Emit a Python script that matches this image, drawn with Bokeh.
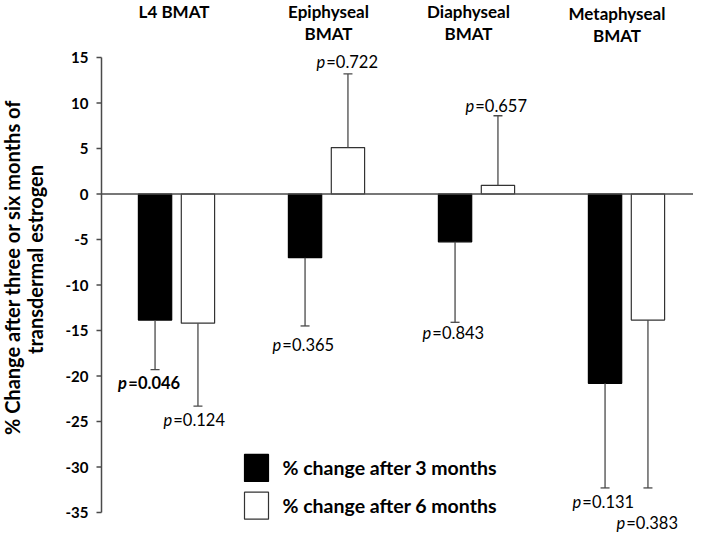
import math
from bokeh.plotting import figure
from bokeh.models import Range1d
from bokeh.core.properties import value
from bokeh.embed import file_html
from bokeh.resources import INLINE

# ---------------- data ----------------
categories = ["L4 BMAT", "Epiphyseal\nBMAT", "Diaphyseal\nBMAT", "Metaphyseal\nBMAT"]
series_names = ["% change after 3 months", "% change after 6 months"]
change_3m = [-13.85, -7.0, -5.25, -20.8]
change_6m = [-14.2, 5.1, 0.95, -13.85]
sd_3m = [5.45, 7.5, 8.85, 11.5]
sd_6m = [9.1, 8.1, 7.65, 18.45]
p_3m = ["0.046", "0.365", "0.843", "0.131"]
p_6m = ["0.124", "0.722", "0.657", "0.383"]
bold_3m = [True, False, False, False]
bold_6m = [False, False, False, False]
y_ticks = [15, 10, 5, 0, -5, -10, -15, -20, -25, -30, -35]
y_title = ["% Change  after three or six months of", "transdermal estrogen"]

# ---------------- layout ----------------
W, H = 693, 532
AX = 101          # pixel x of the y axis
PXX = 150.0       # pixels per category
Y15 = 57          # pixel y of the value 15
PXY = 9.1         # pixels per unit
x0 = -0.5 - AX / PXX
x1 = x0 + W / PXX
y1 = 15 + Y15 / PXY
y0 = y1 - H / PXY


def X(fx):
    return x0 + fx / PXX


def Y(fy):
    return y1 - fy / PXY


FONT = value("Lato")
GRAY = "#4a4a4a"

p = figure(width=W, height=H, x_range=Range1d(x0, x1), y_range=Range1d(y0, y1),
           x_axis_location=None, y_axis_location=None, min_border=0,
           toolbar_location=None, output_backend="svg")
p.outline_line_color = None
p.xgrid.visible = False
p.ygrid.visible = False
p.background_fill_color = "white"

OFF = 0.143
BW = 0.222
idx = list(range(len(categories)))
xb = [i - OFF for i in idx]
xw = [i + OFF for i in idx]

# bars
p.vbar(x=xb, top=change_3m, bottom=0, width=BW, fill_color="black", line_color="black", line_width=1.2)
p.vbar(x=xw, top=change_6m, bottom=0, width=BW, fill_color="white", line_color="#333333", line_width=1.2)

# zero line
p.segment(x0=[-0.5], y0=[0], x1=[x1], y1=[0], line_color=GRAY, line_width=1.5)

# y axis
p.segment(x0=[-0.5], y0=[min(y_ticks)], x1=[-0.5], y1=[max(y_ticks)], line_color=GRAY, line_width=1.5)
p.segment(x0=[X(AX - 5)] * len(y_ticks), y0=y_ticks, x1=[-0.5] * len(y_ticks), y1=y_ticks,
          line_color=GRAY, line_width=1.3)
p.text(x=[X(AX - 13)] * len(y_ticks), y=y_ticks, text=[str(t) for t in y_ticks],
       text_font=FONT, text_font_style="bold", text_font_size="15px",
       text_align="right", text_baseline="middle", text_color="black")

# error bars
CAP = 4.5 / PXX


def err_ends(vals, sds):
    return [v + s if v > 0 else v - s for v, s in zip(vals, sds)]


e3 = err_ends(change_3m, sd_3m)
e6 = err_ends(change_6m, sd_6m)
for xs, vals, ends in ((xb, change_3m, e3), (xw, change_6m, e6)):
    p.segment(x0=xs, y0=vals, x1=xs, y1=ends, line_color=GRAY, line_width=1.3)
    p.segment(x0=[x - CAP for x in xs], y0=ends, x1=[x + CAP for x in xs], y1=ends,
              line_color=GRAY, line_width=1.3)

# p-value labels
lab_dy_3m = [13, 19, 11, 14]
lab_dy_6m = [14, 12, 10, 35]
lab_dx_3m = [-5, -2, -2, -2]
lab_dx_6m = [-4, -1, -2, -1]
for xs, vals, ends, ps, bolds, dys, dxs in (
        (xb, change_3m, e3, p_3m, bold_3m, lab_dy_3m, lab_dx_3m),
        (xw, change_6m, e6, p_6m, bold_6m, lab_dy_6m, lab_dx_6m)):
    for x, v, e, pv, b, dy, dx in zip(xs, vals, ends, ps, bolds, dys, dxs):
        yy = e + dy / PXY if v > 0 else e - dy / PXY
        half = 32 if b else 30.5
        left = x + (dx - half) / PXX
        p.text(x=[left], y=[yy], text=["p"], text_font=FONT,
               text_font_style="bold italic" if b else "italic", text_font_size="16.5px",
               text_align="left", text_baseline="middle", text_color="black")
        p.text(x=[left + (9.8 if not b else 10.3) / PXX], y=[yy], text=["=" + pv], text_font=FONT,
               text_font_style="bold" if b else "normal", text_font_size="16.5px",
               text_align="left", text_baseline="middle", text_color="black")

# category headers
head_fx = [173.5, 328, 468, 616.5]
head_fy = [11, 11, 11, 13]
for cat, fx, fy in zip(categories, head_fx, head_fy):
    for k, line in enumerate(cat.split("\n")):
        p.text(x=[X(fx)], y=[Y(fy + 22 * k)], text=[line], text_font=FONT, text_font_style="bold",
               text_font_size="17px", text_align="center", text_baseline="middle", text_color="black")

# y title
title_fx = [11, 34]
title_val = [-7.8, -7.2]
for t, fx, yv in zip(y_title, title_fx, title_val):
    p.text(x=[X(fx)], y=[yv], text=[t], angle=math.pi / 2, text_font=FONT, text_font_style="bold",
           text_font_size="20px", text_align="center", text_baseline="middle", text_color="black")

# legend
leg_x = X(256)
leg_y = [-30.1, -34.25]
p.rect(x=[leg_x], y=[leg_y[0]], width=24, height=27, width_units="screen", height_units="screen",
       fill_color="black", line_color="black", line_width=1.2)
p.rect(x=[leg_x], y=[leg_y[1]], width=24, height=27, width_units="screen", height_units="screen",
       fill_color="white", line_color="#333333", line_width=1.2)
p.text(x=[X(282)] * 2, y=leg_y, text=series_names, text_font=FONT, text_font_style="bold",
       text_font_size="19.5px", text_align="left", text_baseline="middle", text_color="black")

open("out.html", "w").write(file_html(p, INLINE))
